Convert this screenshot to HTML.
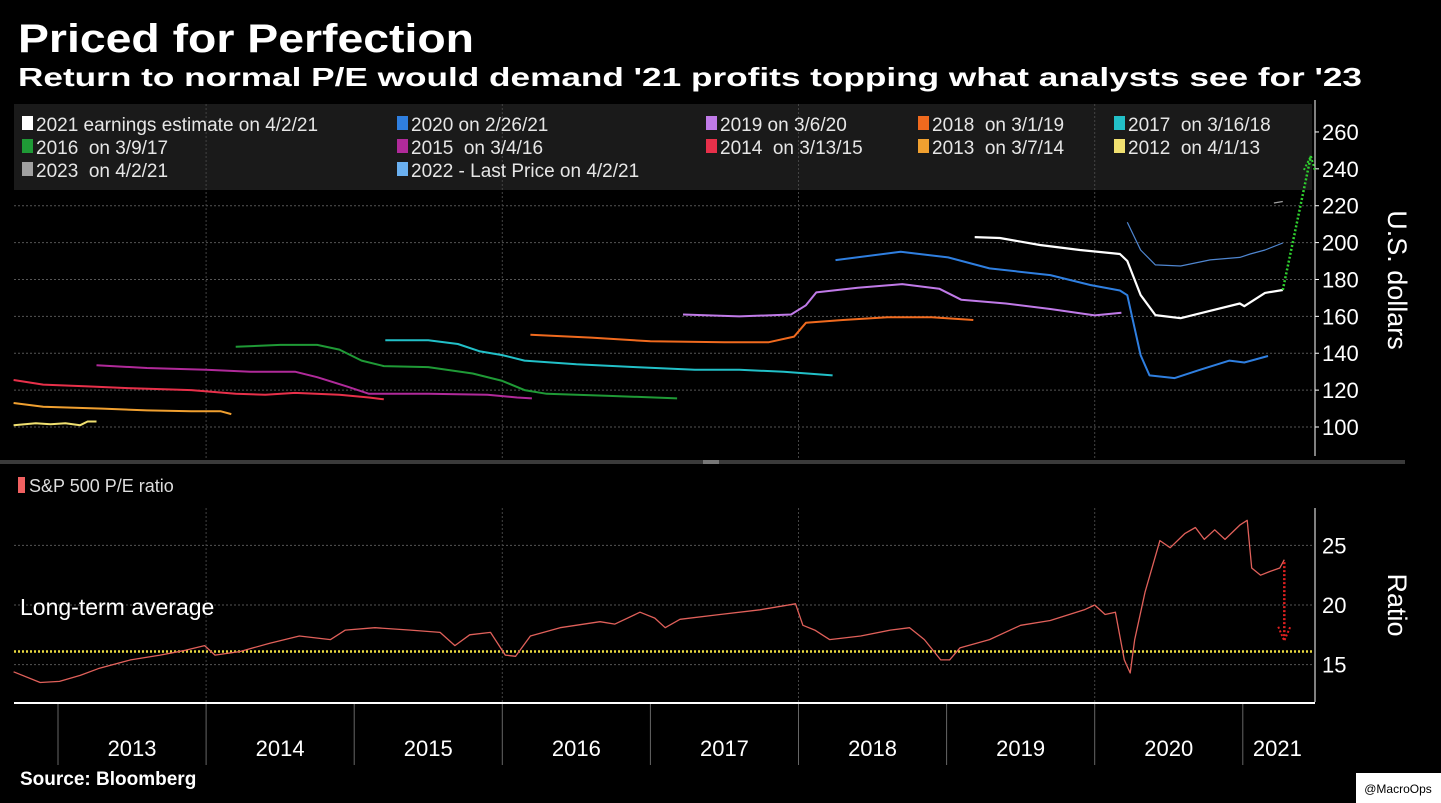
<!DOCTYPE html>
<html><head><meta charset="utf-8"><style>
html,body{margin:0;padding:0;background:#000;width:1441px;height:803px;overflow:hidden}
svg{display:block;font-family:"Liberation Sans",sans-serif}
</style></head><body>
<svg id="c" width="1441" height="803" viewBox="0 0 1441 803" xmlns="http://www.w3.org/2000/svg">
<rect x="0" y="0" width="1441" height="803" fill="#000"/>
<text x="18" y="52" fill="#fff" font-size="40" font-weight="bold" textLength="456" lengthAdjust="spacingAndGlyphs">Priced for Perfection</text>
<text x="18" y="86" fill="#fff" font-size="26" font-weight="bold" textLength="1344" lengthAdjust="spacingAndGlyphs">Return to normal P/E would demand '21 profits topping what analysts see for '23</text>
<rect x="14" y="104" width="1298" height="86" fill="#1a1a1a"/>
<g id="grid"></g>
<g id="legend"></g>
<g id="top"></g>
<g id="bot"></g>
<rect x="0" y="460" width="1405" height="4" fill="#3a3a3a"/>
<rect x="703" y="460" width="16" height="4" fill="#777"/>
<text x="1395" y="280" fill="#fff" font-size="27" text-anchor="middle" transform="rotate(90 1395 280)" dominant-baseline="middle">U.S. dollars</text>
<text x="1395" y="605" fill="#fff" font-size="27" text-anchor="middle" transform="rotate(90 1395 605)" dominant-baseline="middle">Ratio</text>
<rect x="18" y="477" width="7" height="16" fill="#f06060"/>
<text x="29" y="492" fill="#ddd" font-size="18">S&amp;P 500 P/E ratio</text>
<text x="20" y="615" fill="#fff" font-size="23">Long-term average</text>
<text x="20" y="785" fill="#fff" font-size="19" font-weight="bold">Source: Bloomberg</text>
<rect x="1356" y="773" width="85" height="30" fill="#fff"/>
<text x="1398" y="793" fill="#000" font-size="12" text-anchor="middle">@MacroOps</text>
</svg>
<script>
const NS='http://www.w3.org/2000/svg';
// ---- data ----
const topTicks=[100,120,140,160,180,200,220,240,260];
const botTicks=[15,20,25];
const yearLabels=['2013','2014','2015','2016','2017','2018','2019','2020','2021'];
const yearStarts=[2013,2014,2015,2016,2017,2018,2019,2020,2021];
const longTermAvg=16.1;
const legendNames=['2021 earnings estimate on 4/2/21','2020 on 2/26/21','2019 on 3/6/20','2018  on 3/1/19','2017  on 3/16/18','2016  on 3/9/17','2015  on 3/4/16','2014  on 3/13/15','2013  on 3/7/14','2012  on 4/1/13','2023  on 4/2/21','2022 - Last Price on 4/2/21'];
const s2012T=[2012.70,2012.85,2012.95,2013.05,2013.15,2013.2,2013.26];
const s2012V=[101,102,101.5,102,101,103,103];
const s2013T=[2012.70,2012.9,2013.3,2013.6,2013.9,2014.1,2014.17];
const s2013V=[113,111,110,109,108.5,108.5,107];
const s2014T=[2012.70,2012.9,2013.2,2013.5,2013.9,2014.2,2014.4,2014.6,2014.9,2015.1,2015.2];
const s2014V=[125.5,123,122,121,120,118,117.5,118.5,117.5,116,115];
const s2015T=[2013.26,2013.6,2014.0,2014.3,2014.6,2014.75,2014.95,2015.1,2015.5,2015.9,2016.1,2016.2];
const s2015V=[133.5,132,131,130,130,127,122,118,118,117.5,116,115.5];
const s2016T=[2014.2,2014.5,2014.75,2014.9,2015.05,2015.2,2015.5,2015.8,2016.0,2016.15,2016.3,2016.7,2017.18];
const s2016V=[143.5,144.5,144.5,142,136,133,132.5,129,125,120,118,117,115.5];
const s2017T=[2015.21,2015.5,2015.7,2015.85,2016.0,2016.15,2016.5,2016.9,2017.3,2017.6,2017.9,2018.23];
const s2017V=[147,147,145,141,139,136,134,132.5,131,131,130,128];
const s2018T=[2016.19,2016.6,2017.0,2017.5,2017.8,2017.97,2018.05,2018.3,2018.6,2018.9,2019.18];
const s2018V=[150,148.5,146.5,146,146,149,156.5,158,159.5,159.5,158];
const s2019T=[2017.22,2017.6,2017.95,2018.05,2018.12,2018.4,2018.7,2018.95,2019.1,2019.4,2019.7,2020.0,2020.18];
const s2019V=[161,160,161,166,173,175.5,177.5,175,169,167,164,160.5,162];
const s2020T=[2018.25,2018.69,2019.01,2019.29,2019.70,2019.97,2020.17,2020.22,2020.31,2020.37,2020.54,2020.71,2020.91,2021.01,2021.17];
const s2020V=[190.5,195,192,186,182.4,177,174,171.5,139,128,126.5,131,136,135,138.5];
const s2021T=[2019.19,2019.36,2019.63,2019.90,2020.17,2020.22,2020.31,2020.41,2020.58,2020.78,2020.98,2021.01,2021.15,2021.27];
const s2021V=[203,202.5,198.7,196,193.8,190,171.6,160.7,159,163,167,165.5,172.7,174.3];
const s2022T=[2020.22,2020.31,2020.41,2020.58,2020.78,2020.98,2021.05,2021.15,2021.27];
const s2022V=[211,196,187.9,187.3,190.6,192,193.8,196,199.8];
const s2023T=[2021.21,2021.27];
const s2023V=[221.5,222.3];
const arrowUpT=[2021.27,2021.46];
const arrowUpV=[174.3,247];
const peT=[2012.70,2012.88,2013.01,2013.15,2013.28,2013.49,2013.69,2013.86,2013.99,2014.06,2014.23,2014.43,2014.63,2014.84,2014.94,2015.14,2015.38,2015.58,2015.68,2015.78,2015.92,2016.02,2016.09,2016.19,2016.39,2016.66,2016.76,2016.93,2017.03,2017.10,2017.20,2017.47,2017.74,2017.98,2018.03,2018.11,2018.21,2018.42,2018.62,2018.75,2018.85,2018.96,2019.02,2019.09,2019.29,2019.50,2019.70,2019.93,2020.00,2020.07,2020.14,2020.20,2020.24,2020.27,2020.34,2020.44,2020.51,2020.61,2020.68,2020.74,2020.81,2020.88,2020.98,2021.03,2021.06,2021.12,2021.18,2021.25,2021.28];
const peV=[14.4,13.5,13.6,14.1,14.7,15.4,15.8,16.2,16.6,15.8,16.1,16.8,17.4,17.1,17.9,18.1,17.9,17.7,16.6,17.5,17.7,15.8,15.7,17.4,18.1,18.6,18.4,19.4,18.9,18.1,18.8,19.2,19.6,20.1,18.3,17.9,17.1,17.4,17.9,18.1,17.1,15.4,15.4,16.4,17.1,18.3,18.7,19.6,20.0,19.2,19.4,15.4,14.3,17.1,21.1,25.4,24.8,26.0,26.5,25.5,26.3,25.5,26.7,27.1,23.1,22.5,22.8,23.1,23.8];
const arrowDownT=[2021.28,2021.28];
const arrowDownV=[23.6,17.0];
// ---- scales ----
const X=t=>58+(t-2013)*148.1;
const YT=v=>427-(v-100)*1.844;
const YB=v=>605-(v-20)*11.93;
function el(tag,attrs,parent){const e=document.createElementNS(NS,tag);for(const k in attrs)e.setAttribute(k,attrs[k]);parent.appendChild(e);return e;}
const grid=document.getElementById('grid'),top_=document.getElementById('top'),bot=document.getElementById('bot'),leg=document.getElementById('legend');
topTicks.forEach(v=>{
  if(v>=100&&v<=220){const l=el('line',{x1:14,x2:1312,y1:YT(v),y2:YT(v),stroke:'#555','stroke-dasharray':'2,2','stroke-width':1},grid);
  
  }
  const tk=el('line',{x1:1315,x2:1319,y1:YT(v),y2:YT(v),stroke:'#fff'},grid);
  
  
  const t=el('text',{x:1322,y:YT(v)+8,fill:'#fff','font-size':22},grid);t.textContent=v;
  
  
});
const ta=el('line',{x1:1315,x2:1315,y1:100,y2:456,stroke:'#fff'},grid);


botTicks.forEach(v=>{
  const l=el('line',{x1:14,x2:1312,y1:YB(v),y2:YB(v),stroke:'#555','stroke-dasharray':'2,2'},grid);
  
  
  const t=el('text',{x:1322,y:YB(v)+8,fill:'#fff','font-size':22},grid);t.textContent=v;
  
  
});
const ba=el('line',{x1:1315,x2:1315,y1:508,y2:702,stroke:'#fff'},grid);


yearStarts.forEach((y,i)=>{
  const x=X(y);
  if(i%2===1){
    const v1=el('line',{x1:x,x2:x,y1:104,y2:458,stroke:'#444','stroke-dasharray':'2,2'},grid);
    
    
    const v2=el('line',{x1:x,x2:x,y1:508,y2:702,stroke:'#444','stroke-dasharray':'2,2'},grid);
    
    
  }
  const tk=el('line',{x1:x,x2:x,y1:703,y2:765,stroke:'#666'},grid);
  
  
  const nx=i<yearStarts.length-1?X(yearStarts[i+1]):1312;
  const t=el('text',{x:(x+nx)/2,y:756,fill:'#fff','font-size':22,'text-anchor':'middle'},grid);t.textContent=yearLabels[i];
  
  
});
const xa=el('line',{x1:14,x2:1315,y1:703,y2:703,stroke:'#fff','stroke-width':2},grid);


const legCols=[22,397,706,918,1114],legRows=[124,147,170];
const legColors=['#ffffff','#2f7fe0','#c07ae8','#f06a1e','#22c0c8','#1f9a36','#b02a9a','#e8304a','#f0a030','#f0e070','#a0a0a0','#6ab0f0'];
const legPos=[[0,0],[1,0],[2,0],[3,0],[4,0],[0,1],[1,1],[2,1],[3,1],[4,1],[0,2],[1,2]];
legendNames.forEach((n,i)=>{
  const [c,r]=legPos[i];const x=legCols[c],y=legRows[r];
  const g=el('g',{},leg);
  
  
  el('rect',{x:x,y:y-8,width:11,height:14,fill:legColors[i]},g);
  const t=el('text',{x:x+14,y:y+7,fill:'#e6e6e6','font-size':19,style:'white-space:pre'},g);t.textContent=n;
});
function line(T,V,Y,color,w,parent,name,dash){
  const d=T.map((t,i)=>(i?'L':'M')+X(t).toFixed(1)+','+Y(V[i]).toFixed(1)).join('');
  const p=el('path',{d:d,fill:'none',stroke:color,'stroke-width':w,'stroke-linejoin':'round'},parent);
  if(dash)p.setAttribute('stroke-dasharray',dash);
  
  
  return p;
}
line(s2012T,s2012V,YT,'#f0e070',2,top_,'series-2012');
line(s2013T,s2013V,YT,'#f0a030',2,top_,'series-2013');
line(s2014T,s2014V,YT,'#e8304a',2,top_,'series-2014');
line(s2015T,s2015V,YT,'#b02a9a',2,top_,'series-2015');
line(s2016T,s2016V,YT,'#1f9a36',2,top_,'series-2016');
line(s2017T,s2017V,YT,'#22c0c8',2,top_,'series-2017');
line(s2018T,s2018V,YT,'#f06a1e',2,top_,'series-2018');
line(s2019T,s2019V,YT,'#c07ae8',2,top_,'series-2019');
line(s2020T,s2020V,YT,'#2f7fe0',2,top_,'series-2020');
line(s2022T,s2022V,YT,'#4f86d0',1.2,top_,'series-2022');
line(s2023T,s2023V,YT,'#a0a0a0',1.2,top_,'series-2023');
line(s2021T,s2021V,YT,'#ffffff',2.2,top_,'series-2021');
line(arrowUpT,arrowUpV,YT,'#2fd02f',2.5,top_,'target-arrow-up','2,2');
const ux=X(arrowUpT[1]),uy=YT(arrowUpV[1]);
const ah=el('path',{d:`M${ux-7},${uy+14}L${ux},${uy}L${ux+4},${uy+15}`,fill:'none',stroke:'#2fd02f','stroke-width':2,'stroke-dasharray':'2,2'},top_);


const la=el('line',{x1:14,x2:1312,y1:YB(longTermAvg),y2:YB(longTermAvg),stroke:'#e8d840','stroke-width':2.5,'stroke-dasharray':'2,2'},bot);


line(peT,peV,YB,'#e0605a',1.3,bot,'pe-ratio-line');
line(arrowDownT,arrowDownV,YB,'#e02020',2.5,bot,'pe-arrow-down','2,2');
const dx=X(arrowDownT[1]),dy=YB(arrowDownV[1]);
const dh=el('path',{d:`M${dx-6},${dy-14}L${dx},${dy}L${dx+6},${dy-14}`,fill:'none',stroke:'#e02020','stroke-width':2,'stroke-dasharray':'2,2'},bot);


</script>
</body></html>
